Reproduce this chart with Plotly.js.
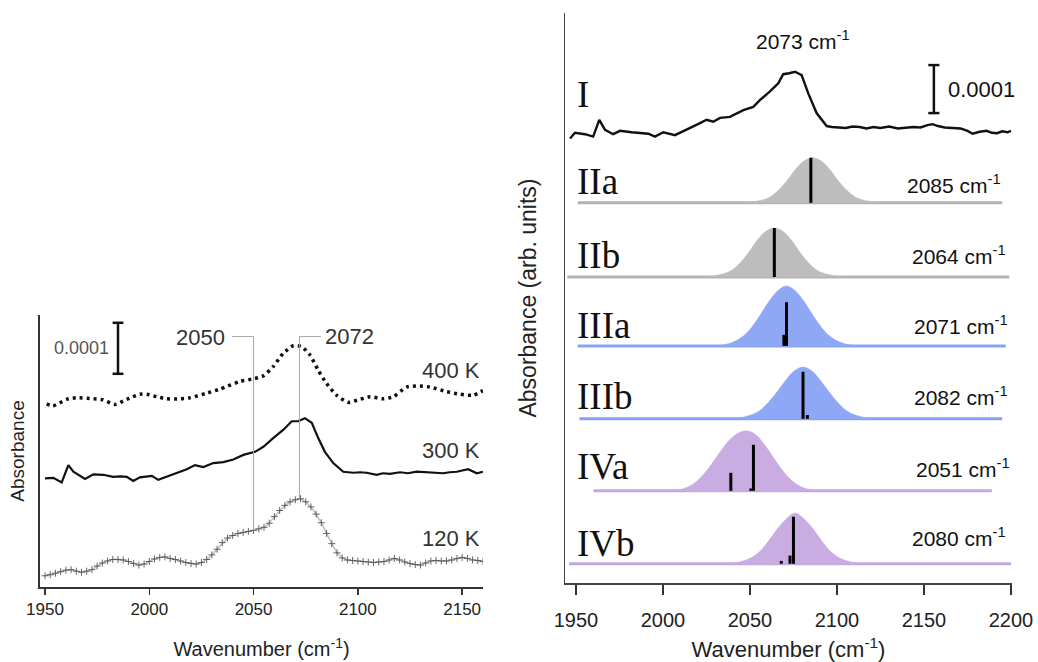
<!DOCTYPE html>
<html>
<head>
<meta charset="utf-8">
<script src="https://cdn.plot.ly/plotly-3.0.1.min.js"></script>
<style>
  html, body { margin: 0; padding: 0; background: #ffffff; }
  #chart { width: 1038px; height: 662px; }
</style>
</head>
<body>
<div id="chart"></div>
<script>
// ---------- Left panel: measured spectra at three temperatures (absorbance, units of 1e-4, offset) ----------
const wn400 = [1950.8,1953.8,1960.4,1965.2,1973.0,1977.8,1983.6,1989.2,1995.5,1998.8,2003.5,2008.3,2014.7,2019.5,2027.5,2033.9,2043.5,2049.9,2054.7,2059.4,2064.2,2069.0,2073.1,2077.0,2081.0,2085.0,2089.8,2095.4,2101.0,2105.8,2112.2,2117.0,2123.4,2129.8,2134.6,2142.6,2148.9,2155.3,2160.0];
const abs400 = [3.59,3.55,3.68,3.71,3.69,3.67,3.58,3.68,3.78,3.78,3.73,3.69,3.69,3.71,3.80,3.88,4.03,4.08,4.14,4.32,4.58,4.73,4.71,4.55,4.25,3.99,3.76,3.62,3.68,3.73,3.69,3.73,3.92,3.94,3.92,3.83,3.78,3.76,3.85];

const wn300 = [1950.0,1954.0,1958.0,1961.2,1963.6,1966.0,1969.2,1973.2,1977.9,1982.7,1986.0,1989.2,1992.3,1995.5,2001.2,2004.3,2008.3,2011.5,2014.7,2018.0,2021.9,2025.9,2030.7,2035.5,2040.3,2045.1,2050.7,2054.7,2059.4,2064.2,2068.3,2071.4,2074.6,2077.9,2081.0,2084.2,2088.2,2093.0,2097.8,2101.0,2104.2,2109.0,2112.0,2115.4,2120.2,2124.0,2128.2,2134.6,2140.9,2144.0,2147.4,2152.9,2157.0,2160.0];
const abs300 = [2.13,2.14,2.05,2.39,2.26,2.20,2.12,2.21,2.20,2.16,2.17,2.16,2.08,2.15,2.18,2.10,2.16,2.21,2.26,2.31,2.39,2.35,2.43,2.45,2.50,2.59,2.65,2.75,2.92,3.08,3.25,3.25,3.31,3.22,2.92,2.65,2.43,2.26,2.24,2.25,2.24,2.20,2.23,2.22,2.25,2.23,2.26,2.25,2.23,2.25,2.26,2.31,2.23,2.26];

const wn120 = [1950,1952.5,1955,1957.5,1960,1962.5,1965,1967.5,1970,1972.5,1975,1977.5,1980,1982.5,1985,1987.5,1990,1992.5,1995,1997.5,2000,2002.5,2005,2007.5,2010,2012.5,2015,2017.5,2020,2022.5,2025,2027.5,2030,2032.5,2035,2037.5,2040,2042.5,2045,2047.5,2050,2052.5,2055,2057.5,2060,2062.5,2065,2067.5,2070,2072.5,2075,2077.5,2080,2082.5,2085,2087.5,2090,2092.5,2095,2097.5,2100,2102.5,2105,2107.5,2110,2112.5,2115,2117.5,2120,2122.5,2125,2127.5,2130,2132.5,2135,2137.5,2140,2142.5,2145,2147.5,2150,2152.5,2155,2157.5,2160];
const abs120 = [0.22,0.24,0.27,0.30,0.33,0.34,0.31,0.29,0.31,0.34,0.41,0.47,0.51,0.54,0.54,0.53,0.50,0.46,0.43,0.45,0.50,0.55,0.58,0.59,0.56,0.54,0.51,0.48,0.46,0.45,0.48,0.54,0.63,0.74,0.87,0.96,1.01,1.05,1.07,1.09,1.11,1.14,1.17,1.25,1.38,1.50,1.60,1.67,1.71,1.73,1.67,1.57,1.43,1.26,1.05,0.85,0.67,0.57,0.53,0.52,0.51,0.50,0.49,0.48,0.49,0.50,0.53,0.56,0.53,0.49,0.46,0.44,0.43,0.47,0.51,0.52,0.51,0.51,0.53,0.56,0.58,0.56,0.53,0.52,0.50];

const tempLabels = ['400 K', '300 K', '120 K'];
const markedBands = [2050, 2072];          // guide lines in the left panel
const markedTops = [1.12, 1.73];           // where each guide meets the 120 K trace

// ---------- Right panel: measured spectrum I ----------
const wnI = [1946.6,1949.4,1955.2,1959.9,1963.4,1966.7,1971.4,1975.3,1982.0,1987.8,1991.6,1995.4,2000.2,2006.9,2013.6,2021.3,2025.1,2028.9,2032.8,2038.5,2046.2,2051.9,2055.7,2061.5,2066.3,2069.1,2072.5,2075.9,2079.7,2083.5,2088.3,2094.1,2097.0,2101.7,2105.0,2109.0,2113.0,2117.0,2121.0,2125.0,2130.0,2135.0,2140.0,2144.0,2148.0,2152.0,2155.0,2158.0,2162.0,2166.0,2171.0,2175.0,2178.0,2182.0,2186.0,2189.0,2192.0,2195.0,2198.0,2200.0];
const absI = [9.26,9.38,9.35,9.30,9.65,9.44,9.35,9.42,9.39,9.37,9.36,9.30,9.39,9.33,9.44,9.58,9.65,9.61,9.69,9.71,9.85,9.92,10.06,10.24,10.41,10.60,10.62,10.65,10.58,10.20,9.79,9.52,9.50,9.49,9.48,9.51,9.50,9.47,9.50,9.48,9.51,9.47,9.48,9.50,9.49,9.54,9.56,9.52,9.49,9.48,9.47,9.42,9.36,9.40,9.42,9.38,9.37,9.41,9.39,9.42];

// ---------- Right panel: simulated bands II-IV ----------
const bandNames  = ['IIa', 'IIb', 'IIIa', 'IIIb', 'IVa', 'IVb'];
const bandLabels = [2085, 2064, 2071, 2082, 2051, 2080];

const bandX = [
  [2046,2051,2056,2061,2066,2071,2076,2081,2086,2091,2096,2101,2106,2111,2116,2121,2126],
  [2024,2029,2034,2039,2044,2049,2054,2059,2064,2069,2074,2079,2084,2089,2094,2099,2104],
  [2031,2036,2041,2046,2051,2056,2061,2066,2071,2076,2081,2086,2091,2096,2101,2106,2111],
  [2040.5,2045.5,2050.5,2055.5,2060.5,2065.5,2070.5,2075.5,2080.5,2085.5,2090.5,2095.5,2100.5,2105.5,2110.5,2115.5,2120.5],
  [2003,2008,2013,2018,2023,2028,2033,2038,2043,2048,2053,2058,2063,2068,2073,2078,2083,2088,2093],
  [2036,2041,2046,2051,2056,2061,2066,2071,2076,2081,2086,2091,2096,2101,2106,2111,2116]
];
const bandY = [
  [0,0.02,0.05,0.11,0.25,0.45,0.69,0.87,0.94,0.87,0.69,0.45,0.25,0.11,0.05,0.02,0],
  [0,0.02,0.06,0.13,0.28,0.50,0.76,0.95,1.02,0.95,0.76,0.50,0.28,0.13,0.06,0.02,0],
  [0,0.03,0.09,0.20,0.39,0.65,0.93,1.15,1.25,1.15,0.93,0.65,0.39,0.20,0.09,0.03,0],
  [0,0.03,0.08,0.17,0.34,0.56,0.80,1.00,1.08,1.00,0.80,0.56,0.34,0.17,0.08,0.03,0],
  [0,0.02,0.06,0.16,0.33,0.56,0.82,1.05,1.20,1.25,1.18,0.98,0.72,0.46,0.25,0.11,0.04,0.01,0],
  [0,0.02,0.06,0.13,0.27,0.49,0.74,0.94,1.06,0.94,0.74,0.49,0.27,0.13,0.06,0.02,0]
];
// computed mode positions and heights drawn as sticks
const stickX = [[2085],[2064],[2069.5,2071],[2080.5,2083],[2039,2050.5,2052],[2068,2073,2075]];
const stickH = [[0.94],[1.02],[0.23,0.91],[0.98,0.08],[0.375,0.05,0.96],[0.06,0.17,0.98]];
const baseFrom = [1951, 1945, 1951, 1952, 1960, 1946];
const baseTo   = [2195, 2199, 2197, 2195, 2189, 2200];

// vertical stacking of the rows in the right panel
const rowOffset = [7.92, 6.375, 4.94, 3.42, 1.92, 0.40];
const rowColor  = ['#bdbdbd', '#bdbdbd', '#8ea8f6', '#8ea8f6', '#c9ace2', '#c9ace2'];
const lineColor = ['#b3b3b3', '#b3b3b3', '#87a2f4', '#87a2f4', '#c6a8e0', '#c6a8e0'];

// ---------- traces ----------
const SANS = 'Liberation Sans, Arial, sans-serif';
const SERIF = 'Liberation Serif, Times New Roman, serif';
const traces = [];

traces.push({ x: wn400, y: abs400, xaxis: 'x', yaxis: 'y', mode: 'lines', line: { color: '#111', width: 3.5, dash: '3px,4px', shape: 'spline', smoothing: 0.6 }, hoverinfo: 'skip' });
traces.push({ x: wn300, y: abs300, xaxis: 'x', yaxis: 'y', mode: 'lines', line: { color: '#111', width: 2.2 }, hoverinfo: 'skip' });
traces.push({ x: wn120, y: abs120, xaxis: 'x', yaxis: 'y', mode: 'lines+markers',
  line: { color: '#bdbdbd', width: 1.5 },
  marker: { symbol: 'cross-thin', size: 5, line: { color: '#555', width: 0.9 } }, hoverinfo: 'skip' });

traces.push({ x: wnI, y: absI, xaxis: 'x2', yaxis: 'y2', mode: 'lines', line: { color: '#111', width: 2.4 }, hoverinfo: 'skip' });

bandNames.forEach((name, i) => {
  const off = rowOffset[i];
  traces.push({ x: [baseFrom[i], baseTo[i]], y: [off, off], xaxis: 'x2', yaxis: 'y2', mode: 'lines',
    line: { color: lineColor[i], width: 3 }, hoverinfo: 'skip' });
  traces.push({ x: bandX[i], y: bandY[i].map(v => v + off), xaxis: 'x2', yaxis: 'y2', mode: 'lines',
    fill: 'toself', fillcolor: rowColor[i], line: { color: rowColor[i], width: 0.5, shape: 'spline' }, hoverinfo: 'skip' });
  const sx = [], sy = [];
  stickX[i].forEach((s, k) => { sx.push(s, s, null); sy.push(off, off + stickH[i][k], null); });
  traces.push({ x: sx, y: sy, xaxis: 'x2', yaxis: 'y2', mode: 'lines', line: { color: '#000', width: 3 }, hoverinfo: 'skip' });
});

// ---------- layout helpers (pixel positions -> paper fractions) ----------
const W = 1038, H = 662;
const px = x => x / W;
const py = y => 1 - y / H;

function note(text, x, y, opts) {
  return Object.assign({ text, x: px(x), y: py(y), xref: 'paper', yref: 'paper', showarrow: false,
    xanchor: 'center', yanchor: 'middle', font: { family: SANS, size: 17, color: '#222' } }, opts || {});
}

const annotations = [
  note('0.0001', 81, 348, { font: { family: SANS, size: 18, color: '#555' } }),
  note(String(markedBands[0]), 227, 337, { xanchor: 'right', font: { family: SANS, size: 22, color: '#333' } }),
  note(String(markedBands[1]), 323, 336, { xanchor: 'left', font: { family: SANS, size: 22, color: '#333' } }),
  note(tempLabels[0], 482, 370, { xanchor: 'right', font: { family: SANS, size: 22, color: '#333' } }),
  note(tempLabels[1], 482, 450, { xanchor: 'right', font: { family: SANS, size: 22, color: '#333' } }),
  note(tempLabels[2], 482, 538, { xanchor: 'right', font: { family: SANS, size: 22, color: '#333' } }),
  note('2073 cm<sup>-1</sup>', 803, 40, { font: { family: SANS, size: 21, color: '#111' } }),
  note('0.0001', 946, 90, { xanchor: 'left', font: { family: SANS, size: 22, color: '#111' } }),
  note('I', 575, 94, { xanchor: 'left', font: { family: SERIF, size: 37, color: '#111' } })
];
const rowLabelY = [181, 255, 325, 397, 467, 543];
const rowValueY = [184, 255, 325, 396, 468, 537];
const rowValueR = [1003, 1008, 1010, 1010, 1012, 1008];
bandNames.forEach((name, i) => {
  annotations.push(note(name, 575, rowLabelY[i], { xanchor: 'left', font: { family: SERIF, size: 37, color: '#111' } }));
  annotations.push(note(bandLabels[i] + ' cm<sup>-1</sup>', rowValueR[i], rowValueY[i], { xanchor: 'right', font: { family: SANS, size: 21, color: '#111' } }));
});

// scale bars (0.0001 absorbance = 1 unit) and the guide lines of the left panel
const shapes = [];
function scaleBar(xr, yr, xc, y0, capHalf) {
  shapes.push({ type: 'line', xref: xr, yref: yr, x0: xc, x1: xc, y0: y0, y1: y0 + 1, line: { color: '#111', width: 2.5 } });
  [y0, y0 + 1].forEach(yy => shapes.push({ type: 'line', xref: xr, yref: yr, x0: xc - capHalf, x1: xc + capHalf, y0: yy, y1: yy, line: { color: '#111', width: 2.5 } }));
}
scaleBar('x', 'y', 1985, 4.18, 2.6);
scaleBar('x2', 'y2', 2155.7, 9.79, 3.2);

const guideTop = 4.91;
const guideEnd = [2039.6, 2082.3];
markedBands.forEach((b, i) => {
  shapes.push({ type: 'line', xref: 'x', yref: 'y', x0: b, x1: b, y0: markedTops[i], y1: guideTop, line: { color: '#a8a8a8', width: 1 } });
  shapes.push({ type: 'line', xref: 'x', yref: 'y', x0: b, x1: guideEnd[i], y0: guideTop, y1: guideTop, line: { color: '#a8a8a8', width: 1 } });
});

const axisCommon = { showgrid: false, zeroline: false, showline: true, fixedrange: true };

const layout = {
  width: W, height: H,
  margin: { l: 0, r: 0, t: 0, b: 0 },
  paper_bgcolor: '#ffffff', plot_bgcolor: '#ffffff',
  showlegend: false,
  font: { family: SANS, color: '#222' },
  xaxis: Object.assign({}, axisCommon, {
    domain: [px(40), px(483)], range: [1947.6, 2160], anchor: 'y',
    tickvals: [1950, 2000, 2050, 2100, 2150], ticks: 'outside', ticklen: 6, tickwidth: 1.5, tickcolor: '#333',
    linecolor: '#333', linewidth: 2, tickfont: { family: SANS, size: 17, color: '#222' },
    title: { text: 'Wavenumber (cm<sup>-1</sup>)', font: { family: SANS, size: 20, color: '#222' }, standoff: 24 }
  }),
  yaxis: Object.assign({}, axisCommon, {
    domain: [py(587), py(315)], range: [0, 5.333], anchor: 'x',
    showticklabels: false, ticks: '', linecolor: '#333', linewidth: 2,
    title: { text: 'Absorbance', font: { family: SANS, size: 19, color: '#222' }, standoff: 8 }
  }),
  xaxis2: Object.assign({}, axisCommon, {
    domain: [px(565), px(1012)], range: [1943.7, 2200.6], anchor: 'y2',
    tickvals: [1950, 2000, 2050, 2100, 2150, 2200], ticks: 'outside', ticklen: 10, tickwidth: 2, tickcolor: '#333',
    ticklabelstandoff: 8,
    linecolor: '#444', linewidth: 1.5, tickfont: { family: SANS, size: 20, color: '#222' },
    title: { text: 'Wavenumber (cm<sup>-1</sup>)', font: { family: SANS, size: 22, color: '#222' }, standoff: 12 }
  }),
  yaxis2: Object.assign({}, axisCommon, {
    domain: [py(583), py(13)], range: [0, 11.875], anchor: 'x2',
    showticklabels: false, ticks: '', linecolor: '#444', linewidth: 1.5,
    title: { text: 'Absorbance (arb. units)', font: { family: SANS, size: 23, color: '#222' }, standoff: 20 }
  }),
  annotations: annotations,
  shapes: shapes
};

Plotly.newPlot('chart', traces, layout, { staticPlot: true, displayModeBar: false });
</script>
</body>
</html>
